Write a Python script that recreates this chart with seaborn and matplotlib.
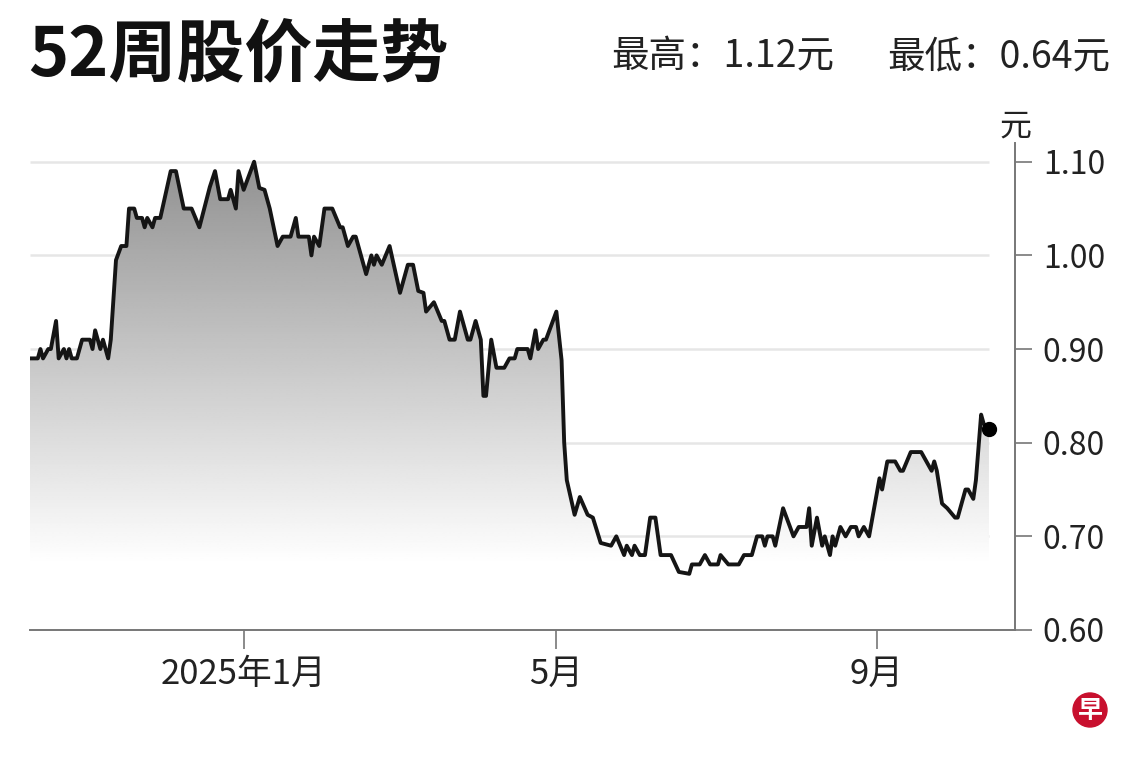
import numpy as np
import pandas as pd
import matplotlib
matplotlib.use("Agg")
import matplotlib.pyplot as plt
import matplotlib.dates as mdates
from matplotlib.patches import Ellipse
import seaborn as sns

# Data (days counted from the first trading day shown)
START = "2024-10-11"
END = "2025-10-24"
day_offset = [0, 3, 4, 5, 7, 8, 10, 11, 13, 14, 15, 16, 18, 20, 23, 24, 25, 27, 28, 30,
              31, 33, 35, 37, 38, 40, 41, 43, 44, 45, 47, 48, 50, 54, 56, 59, 62, 65, 69, 71,
              73, 76, 77, 79, 80, 82, 86, 88, 90, 92, 95, 97, 100, 102, 103, 107, 108, 109, 111, 113,
              116, 119, 120, 122, 124, 125, 129, 131, 132, 133, 135, 138, 142, 145, 147, 149, 151, 152, 155, 158,
              159, 161, 163, 165, 168, 169, 171, 173, 174, 175, 177, 179, 182, 184, 186, 187, 191, 192, 194, 195,
              197, 198, 202, 204, 205, 206, 209, 211, 214, 216, 219, 223, 225, 228, 229, 231, 232, 234, 236, 238,
              240, 242, 246, 249, 253, 254, 257, 259, 261, 264, 265, 268, 272, 274, 277, 279, 281, 282, 283, 285,
              286, 289, 293, 295, 298, 299, 300, 302, 304, 305, 307, 308, 309, 311, 313, 315, 317, 318, 320, 322,
              326, 327, 329, 332, 334, 335, 338, 342, 346, 347, 348, 350, 352, 355, 356, 359, 360, 362, 363, 365,
              366, 368]
price = [0.89, 0.89, 0.90, 0.89, 0.90, 0.90, 0.93, 0.89, 0.90, 0.89, 0.90, 0.89, 0.89, 0.91, 0.91, 0.90, 0.92, 0.90, 0.91, 0.89,
         0.91, 0.995, 1.01, 1.01, 1.05, 1.05, 1.04, 1.04, 1.03, 1.04, 1.03, 1.04, 1.04, 1.09, 1.09, 1.05, 1.05, 1.03, 1.073, 1.09,
         1.06, 1.06, 1.07, 1.05, 1.09, 1.07, 1.10, 1.072, 1.07, 1.05, 1.01, 1.02, 1.02, 1.04, 1.02, 1.02, 1.00, 1.02, 1.01, 1.05,
         1.05, 1.03, 1.03, 1.01, 1.02, 1.02, 0.98, 1.00, 0.99, 1.00, 0.99, 1.01, 0.96, 0.99, 0.99, 0.962, 0.96, 0.94, 0.95, 0.93,
         0.93, 0.91, 0.91, 0.94, 0.91, 0.91, 0.93, 0.91, 0.85, 0.85, 0.91, 0.88, 0.88, 0.89, 0.89, 0.90, 0.90, 0.89, 0.92, 0.90,
         0.91, 0.91, 0.94, 0.888, 0.80, 0.76, 0.723, 0.742, 0.723, 0.72, 0.693, 0.69, 0.70, 0.68, 0.69, 0.68, 0.69, 0.68, 0.68, 0.72,
         0.72, 0.68, 0.68, 0.662, 0.66, 0.67, 0.67, 0.68, 0.67, 0.67, 0.68, 0.67, 0.67, 0.68, 0.68, 0.70, 0.70, 0.69, 0.70, 0.70,
         0.69, 0.73, 0.70, 0.71, 0.71, 0.73, 0.69, 0.72, 0.69, 0.70, 0.68, 0.70, 0.69, 0.71, 0.70, 0.71, 0.71, 0.70, 0.71, 0.70,
         0.762, 0.75, 0.78, 0.78, 0.77, 0.77, 0.79, 0.79, 0.77, 0.78, 0.77, 0.735, 0.73, 0.72, 0.72, 0.75, 0.75, 0.74, 0.76, 0.83,
         0.82, 0.815]

tick_dates = ["2025-01-01", "2025-05-01", "2025-09-01"]
tick_labels = ["2025年1月", "5月", "9月"]
y_ticks = [0.60, 0.70, 0.80, 0.90, 1.00, 1.10]
high_52w = 1.12
low_52w = 0.64

df = pd.DataFrame({
    "date": pd.Timestamp(START) + pd.to_timedelta(day_offset, unit="D"),
    "price": price,
})

sns.set_theme(style="white")
plt.rcParams["font.family"] = ["Noto Sans CJK SC", "DejaVu Sans"]

fig = plt.figure(figsize=(11.4, 7.6), dpi=100)
ax = fig.add_axes([30 / 1140, 1 - 630 / 760, 985 / 1140, 487 / 760])

# Gridlines stop at the last data point
ax.hlines(y_ticks[1:], df["date"].iloc[0], df["date"].iloc[-1], color="#e6e6e6", lw=1.8, zorder=0)

# Gradient fill under the line
x0 = mdates.date2num(df["date"].iloc[0])
x1 = mdates.date2num(df["date"].iloc[-1])
levels = np.linspace(0.60, 1.12, 256)
shade = np.clip(255 - (levels - 0.67) * 255, 0, 255) / 255
img = np.repeat(shade[:, None], 2, axis=1)
im = ax.imshow(img, extent=[x0, x1, 0.60, 1.12], origin="lower", aspect="auto",
               cmap="gray", vmin=0, vmax=1, zorder=1, interpolation="bilinear")
poly = ax.fill_between(df["date"], df["price"], 0.60, color="none", lw=0)
im.set_clip_path(poly.get_paths()[0], transform=ax.transData)

# Price line and last point
sns.lineplot(data=df, x="date", y="price", color="#151515", lw=2.8, ax=ax, zorder=3,
             solid_joinstyle="round", solid_capstyle="round")
ax.plot(df["date"].iloc[-1], df["price"].iloc[-1], "o", color="black", ms=10, zorder=4)

ax.set_xlim(pd.Timestamp(START), pd.Timestamp(END))
ax.set_ylim(0.60, 1.12)
ax.set_xlabel("")
ax.set_ylabel("")

# Axes styling
for side in ["top", "left"]:
    ax.spines[side].set_visible(False)
for side in ["bottom", "right"]:
    ax.spines[side].set_color("#777777")
    ax.spines[side].set_linewidth(1.4)

ax.yaxis.tick_right()
ax.set_yticks(y_ticks)
ax.set_yticklabels([f"{v:.2f}" for v in y_ticks])
ax.set_xticks(pd.to_datetime(tick_dates))
ax.set_xticklabels(tick_labels)
ax.tick_params(axis="y", right=True, left=False, length=12, width=1.2, color="#777777",
               labelsize=23, labelcolor="#222222", pad=8)
ax.tick_params(axis="x", bottom=True, length=14, width=1.2, color="#777777",
               labelsize=25, labelcolor="#222222", pad=5)

# Header texts
fig.text(28 / 1140, 1 - 57 / 760, "52周股价走势", fontsize=49, fontweight="bold",
         ha="left", va="center", color="#111111")
fig.text(834 / 1140, 1 - 57 / 760, f"最高：{high_52w:.2f}元", fontsize=27,
         ha="right", va="center", color="#222222")
fig.text(1110 / 1140, 1 - 57 / 760, f"最低：{low_52w:.2f}元", fontsize=27,
         ha="right", va="center", color="#222222")
fig.text(1015 / 1140, 1 - 127 / 760, "元", fontsize=23, ha="center", va="center", color="#222222")

# Small logo badge
fig.add_artist(Ellipse((1090 / 1140, 1 - 710 / 760), 34 / 1140, 34 / 760,
                       transform=fig.transFigure, color="#c8102e"))
fig.text(1090 / 1140, 1 - 711 / 760, "早", fontsize=18, fontweight="bold",
         ha="center", va="center", color="white")

fig.savefig("out.png", dpi=100)
